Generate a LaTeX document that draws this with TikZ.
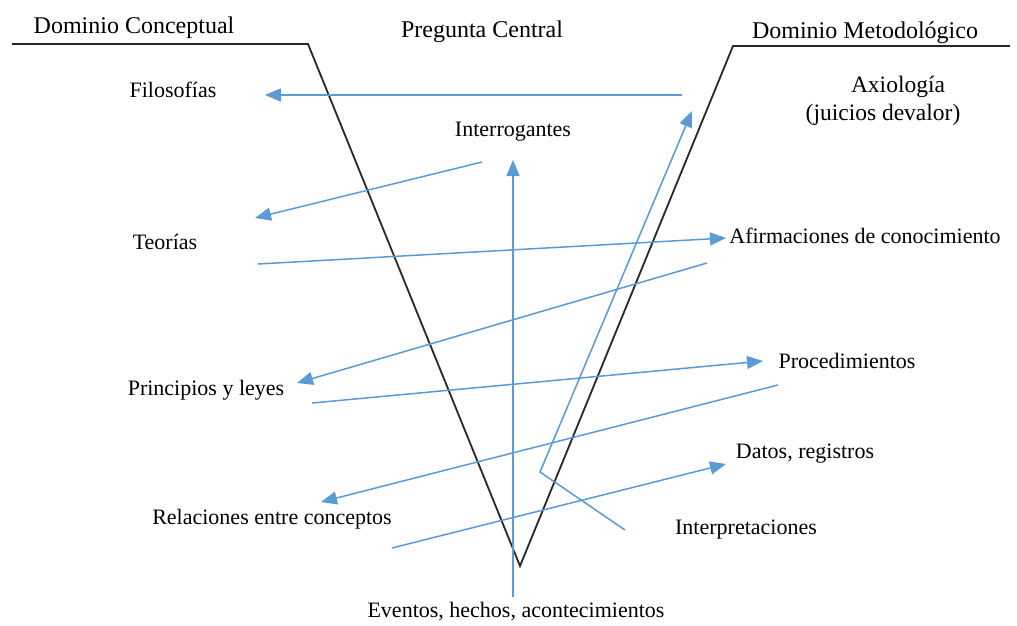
\documentclass[tikz,border=0pt]{standalone}
\usepackage{fontspec}
\setmainfont{Liberation Serif}
\usetikzlibrary{arrows.meta}
\definecolor{arrowblue}{RGB}{91,155,213}
\definecolor{vline}{RGB}{40,40,40}
\begin{document}
\begin{tikzpicture}[x=1pt,y=-1pt,
  lbl/.style={font=\fontsize{22}{26}\selectfont, inner sep=0pt, anchor=center},
  head/.style={lbl, font=\fontsize{24}{28}\selectfont},
  vee/.style={draw=vline, line width=1.8pt, line join=miter},
  link/.style={draw=arrowblue, line width=1.5pt},
  tip/.style={link, -{Triangle[length=16pt,width=13pt]}}]
  \useasboundingbox[fill=white] (0,0) rectangle (1017,626);

  % the V frame with its two shoulders
  \draw[vee] (12,44) -- (308,44) -- (520,566) -- (733,46) -- (1010,46);

  % headings
  \node[head] (dc) at (134,28) {Dominio Conceptual};
  \node[head] (pc) at (482,32) {Pregunta Central};
  \node[head] (dm) at (865,33) {Dominio Metodológico};

  % conceptual side
  \node[lbl] (fil) at (173,90) {Filosofías};
  \node[lbl] (teo) at (165,242) {Teorías};
  \node[lbl] (pri) at (206,390) {Principios y leyes};
  \node[lbl] (rel) at (272,519) {Relaciones entre conceptos};

  % methodological side
  \node[lbl, font=\fontsize{23.5}{27}\selectfont] (axi) at (898,87) {Axiología};
  \node[lbl, font=\fontsize{23.5}{27}\selectfont] (jui) at (883,115) {(juicios devalor)};
  \node[lbl] (afi) at (865,236) {Afirmaciones de conocimiento};
  \node[lbl] (pro) at (847,361) {Procedimientos};
  \node[lbl] (dat) at (805,454) {Datos, registros};
  \node[lbl] (int) at (746,530) {Interpretaciones};

  % centre
  \node[lbl] (q) at (513,132) {Interrogantes};
  \node[lbl] (ev) at (516,612) {Eventos, hechos, acontecimientos};

  % connector end points
  \coordinate (a1s) at (682,95);   \coordinate (a1e) at (265,95);
  \coordinate (a2s) at (482,162);  \coordinate (a2e) at (255,218);
  \coordinate (a3s) at (258,264);  \coordinate (a3e) at (726,238);
  \coordinate (a4s) at (707,263);  \coordinate (a4e) at (297,383);
  \coordinate (a5s) at (312,403);  \coordinate (a5e) at (763,361);
  \coordinate (a6s) at (778,385);  \coordinate (a6e) at (321,502);
  \coordinate (a7s) at (392,548);  \coordinate (a7e) at (726,464);
  \coordinate (ups) at (513,597);  \coordinate (upe) at (513,160);
  \coordinate (i0) at (625,530);   \coordinate (i1) at (540,472);
  \coordinate (i2) at (692,111);

  \draw[tip] (a1s) -- (a1e);
  \draw[tip] (a2s) -- (a2e);
  \draw[tip] (a3s) -- (a3e);
  \draw[tip] (a4s) -- (a4e);
  \draw[tip] (a5s) -- (a5e);
  \draw[tip] (a6s) -- (a6e);
  \draw[tip] (a7s) -- (a7e);
  \draw[tip] (ups) -- (upe);
  \draw[tip, line join=miter] (i0) -- (i1) -- (i2);
\end{tikzpicture}
\end{document}
